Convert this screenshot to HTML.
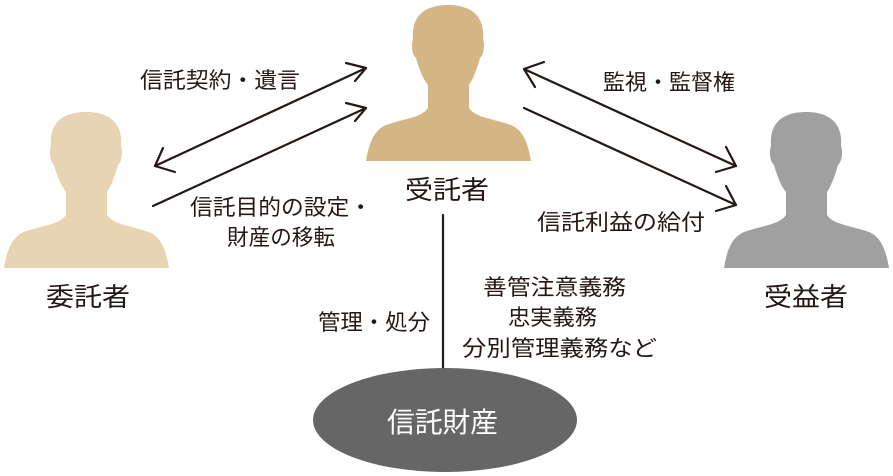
<!DOCTYPE html>
<html><head><meta charset="utf-8"><style>
html,body{margin:0;padding:0;background:#fff;}
svg{display:block;}
text{font-family:"Liberation Sans","Noto Sans CJK JP",sans-serif;fill:#231815;}
</style></head><body>
<svg width="893" height="476" viewBox="0 0 893 476" xmlns="http://www.w3.org/2000/svg">
<defs>
<path id="p" d="M0,158 C3,140 8,127 20,122 C40,115 55,115 62,105 L62,82 C56,75 52,62 50,55 C46,52 45,42 47,36 C45,12 60,2 82,2 C104,2 119,12 117,36 C119,42 118,52 114,55 C112,62 108,75 103,82 L103,105 C110,115 125,115 145,122 C157,127 162,140 165,158 Z"/>
</defs>
<use href="#p" x="366" y="3" fill="#d4b584"/>
<use href="#p" x="4" y="110" fill="#e6d4b3"/>
<use href="#p" x="724" y="110" fill="#a0a0a0"/>

<g stroke="#231815" stroke-width="2.2" fill="none" stroke-linecap="round" stroke-linejoin="round">
<line x1="155" y1="166" x2="366" y2="68"/>
<polyline points="346,63 366,68 355,81"/>
<polyline points="163,148 155,166 175,172"/>
<line x1="153" y1="206" x2="366" y2="108"/>
<polyline points="346,103 366,108 355,121"/>
<line x1="524" y1="69" x2="736" y2="166"/>
<polyline points="544,62 524,69 535,87"/>
<polyline points="726,147 736,166 716,172"/>
<line x1="524" y1="108" x2="736" y2="205"/>
<polyline points="726,186 736,205 716,211"/>
<line x1="443" y1="215" x2="443" y2="368"/>
</g>
<ellipse cx="445" cy="420" rx="132" ry="52" fill="#666666"/>

<g font-size="22">
<text x="140" y="88" textLength="160" lengthAdjust="spacingAndGlyphs">信託契約・遺言</text>
<text x="190" y="215" textLength="182" lengthAdjust="spacingAndGlyphs">信託目的の設定・</text>
<text x="227" y="245" textLength="108" lengthAdjust="spacingAndGlyphs">財産の移転</text>
<text x="603" y="90" textLength="132" lengthAdjust="spacingAndGlyphs">監視・監督権</text>
<text x="537" y="230" textLength="168" lengthAdjust="spacingAndGlyphs">信託利益の給付</text>
<text x="318" y="330" textLength="112" lengthAdjust="spacingAndGlyphs">管理・処分</text>
<text x="483" y="295" textLength="143" lengthAdjust="spacingAndGlyphs">善管注意義務</text>
<text x="508" y="325" textLength="89" lengthAdjust="spacingAndGlyphs">忠実義務</text>
<text x="462" y="356" textLength="195" lengthAdjust="spacingAndGlyphs">分別管理義務など</text>
</g>
<g font-size="26">
<text x="405" y="199" textLength="84" lengthAdjust="spacingAndGlyphs">受託者</text>
<text x="46" y="306" textLength="84" lengthAdjust="spacingAndGlyphs">委託者</text>
<text x="764" y="306" textLength="84" lengthAdjust="spacingAndGlyphs">受益者</text>
</g>
<text x="387" y="432" font-size="28" textLength="111" lengthAdjust="spacingAndGlyphs" style="fill:#fff">信託財産</text>
</svg>
</body></html>
